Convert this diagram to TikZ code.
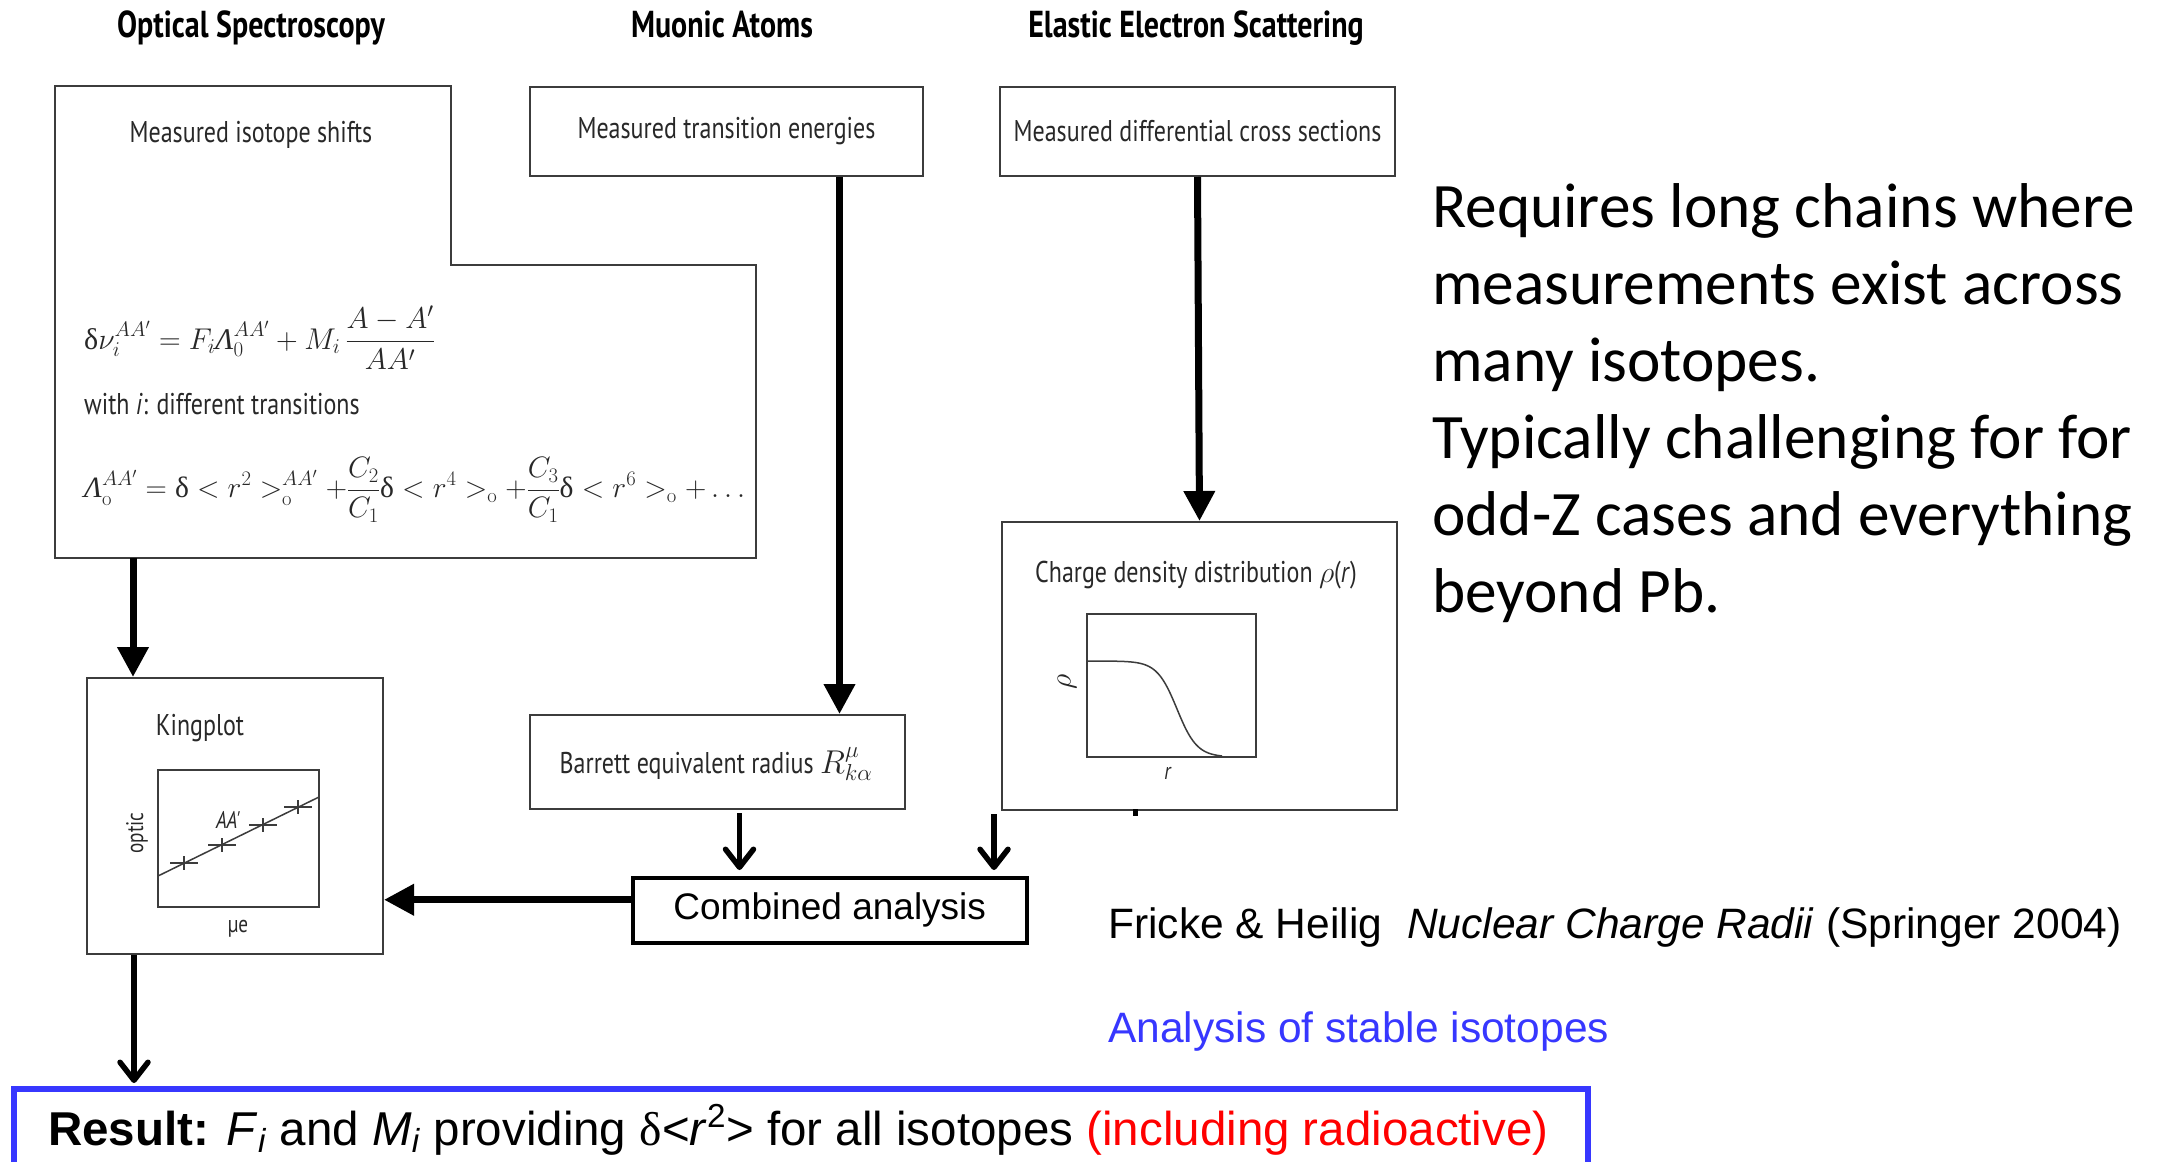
\documentclass[tikz,border=0pt]{standalone}
\usepackage{fix-cm}
\usepackage{fontspec}
\usetikzlibrary{arrows.meta}
\newfontfamily\myr[FakeStretch=0.8]{PT Sans}
\newfontfamily\arial{Liberation Sans}
\newfontfamily\calib{Carlito}
\newfontfamily\tms{Liberation Serif}
\newcommand{\dlt}{\mbox{\tms δ}}
\newcommand{\Lam}{\mbox{\tms\itshape Λ}}
\definecolor{boxgrey}{RGB}{60,60,60}
\definecolor{txtgrey}{RGB}{40,40,40}
\definecolor{resblue}{RGB}{55,55,255}
\definecolor{resred}{RGB}{255,0,0}
\tikzset{
  boxline/.style={draw=boxgrey, line width=2pt},
  sbox/.style={boxline, inner sep=0pt, text=txtgrey, font=\myr\fontsize{30}{36}\selectfont},
  stxt/.style={inner sep=0pt, text=txtgrey, font=\myr\fontsize{30}{36}\selectfont},
  smalltxt/.style={inner sep=0pt, text=txtgrey, font=\myr\fontsize{24}{28}\selectfont},
  hdr/.style={inner sep=0pt, text=black, font=\myr\bfseries\fontsize{37.5}{44}\selectfont},
  mathtxt/.style={inner sep=0pt, text=txtgrey, font=\fontsize{30}{36}\selectfont},
  srcarrow/.style={line width=7pt, -{Triangle[width=30pt,length=30pt]}},
  pptarrow/.style={line width=5.5pt, -{Straight Barb[length=18pt,width=28pt,round]}},
  slide/.style={inner sep=0pt, font=\arial\fontsize{42.5}{50}\selectfont},
  side/.style={inner sep=0pt, anchor=base west, font=\calib\fontsize{63.3}{77}\selectfont},
}
\begin{document}
\begin{tikzpicture}[x=1pt,y=-1pt]
\useasboundingbox (0,0) rectangle (2164,1162);
\fill[white] (0,0) rectangle (2164,1162);

% headers
\node[hdr, anchor=base] (hOpt) at (251,37) {Optical Spectroscopy};
\node[hdr, anchor=base] (hMuo) at (722,37) {Muonic Atoms};
\node[hdr, anchor=base] (hEle) at (1196,37) {Elastic Electron Scattering};

% optical spectroscopy box (L-shaped)
\draw[boxline] (55,86) -- (451,86) -- (451,265) -- (756,265) -- (756,558) -- (55,558) -- cycle;
\node[stxt, anchor=base] (mis) at (251,142) {Measured isotope shifts};
\node[mathtxt, anchor=west] (f1) at (84,338)
  {$\displaystyle \dlt\nu_i^{AA'} = F_i\Lam_0^{AA'} + M_i\,\frac{A-A'}{AA'}$};
\node[stxt, anchor=base west] (wit) at (84,414) {with \textit{i}: different transitions};
\node[mathtxt, anchor=west, font=\fontsize{29.5}{35}\selectfont] (f2) at (84,490)
  {$\displaystyle \Lam_{\mathrm{o}}^{AA'} = \dlt < r^2 >_{\mathrm{o}}^{AA'} + \frac{C_2}{C_1}\dlt < r^4 >_{\mathrm{o}} + \frac{C_3}{C_1}\dlt < r^6 >_{\mathrm{o}} + \ldots$};
\coordinate (b1out) at (133,558);

% muonic and electron boxes
\node[sbox, minimum width=393pt, minimum height=89pt, anchor=north west] (mte) at (529,86) {Measured transition energies};
\node[sbox, minimum width=395pt, minimum height=89pt, anchor=north west] (mdcs) at (999,86) {Measured differential cross sections};

% charge density box
\node[boxline, inner sep=0pt, minimum width=395pt, minimum height=288pt, anchor=north west] (charge) at (1001,521) {};
\node[stxt, anchor=base] (ctitle) at (1196,582) {Charge density distribution $\rho$(\textit{r})};
\draw[boxline] (1087,614) rectangle (1256,757);
\draw[line width=1.5pt, boxgrey] plot[domain=1087:1222, samples=80, smooth] (\x,{661+96/(1+exp(-(\x-1177)/10))});
\node[stxt, rotate=90] (rholab) at (1067,682) {$\rho$};
\node[smalltxt] (rlab) at (1168,773) {\textit{r}};
\fill (1133,809) rectangle (1138,816);

% Barrett box
\node[sbox, minimum width=375pt, minimum height=94pt, anchor=north west] (bar) at (529,714) {};
\node[stxt] (bartxt) at (716,764) {Barrett equivalent radius {\fontsize{33}{38}\selectfont$R^{\mu}_{k\alpha}$}};

% Kingplot box
\node[boxline, inner sep=0pt, minimum width=296pt, minimum height=276pt, anchor=north west] (king) at (86,677) {};
\node[stxt, anchor=base] (ktitle) at (200,735) {Kingplot};
\draw[boxline] (158,770) rectangle (319,907);
\draw[line width=1.5pt, boxgrey] (158,876) -- (319,797);
\foreach \px/\py in {184/863, 222/845, 263/825, 298/807}{
  \draw[line width=1.5pt, boxgrey] (\px-14,\py) -- (\px+14,\py) (\px,\py-7) -- (\px,\py+7);
}
\node[smalltxt, rotate=90] (optic) at (137,833) {optic};
\node[smalltxt, anchor=base] (mue) at (238,932) {µe};
\node[smalltxt] (aap) at (228,820) {\textit{AA'}};

% combined analysis
\node[draw=black, line width=3.5pt, inner sep=0pt, minimum width=394pt, minimum height=65pt, anchor=north west,
      font=\arial\fontsize{37}{44}\selectfont] (comb) at (631,876) {Combined analysis};

% result box
\node[draw=resblue, line width=5.5pt, inner sep=0pt, minimum width=1574pt, minimum height=130pt, anchor=north west] (res) at (11,1086) {};
\node[inner sep=0pt, anchor=base west, font=\arial\fontsize{47.5}{56}\selectfont] (restxt) at (48,1145)
  {\textbf{Result:} \textit{F}\textsubscript{\textit{i}} and \textit{M}\textsubscript{\textit{i}} providing {\tms δ}<\textit{r}\textsuperscript{2}> for all isotopes \textcolor{resred}{(including radioactive)}};

% side texts
\node[slide, anchor=base west] (fricke) at (1108,938) {Fricke \& Heilig\hspace{25pt}\textit{Nuclear Charge Radii} (Springer 2004)};
\node[slide, anchor=base west, text=resblue] (stable) at (1108,1042) {Analysis of stable isotopes};

\node[side] (r1) at (1432,227) {Requires long chains where};
\node[side] (r2) at (1432,304) {measurements exist across};
\node[side] (r3) at (1432,381) {many isotopes.};
\node[side] (r4) at (1432,458) {Typically challenging for for};
\node[side] (r5) at (1432,535) {odd-Z cases and everything};
\node[side] (r6) at (1432,612) {beyond Pb.};

% connectors
\draw[srcarrow] (b1out) -- (b1out |- king.north);
\draw[srcarrow] ([xshift=113pt]mte.south) -- ([xshift=113pt]mte.south |- bar.north);
\draw[srcarrow] (mdcs.south) -- (charge.north);
\draw[srcarrow] ([yshift=10.5pt]comb.west) -- ([yshift=10.5pt]comb.west -| king.east);
\draw[pptarrow, shorten <=3pt, shorten >=6pt] ([xshift=22pt]bar.south) -- ([xshift=22pt]bar.south |- comb.north);
\coordinate (chg) at ([xshift=-7pt]charge.south west);
\draw[pptarrow, shorten <=3pt, shorten >=6pt] (chg) -- (chg |- comb.north);
\draw[pptarrow, shorten >=3pt] ([xshift=48pt]king.south west) -- ([xshift=48pt]king.south west |- res.north);
\end{tikzpicture}
\end{document}
